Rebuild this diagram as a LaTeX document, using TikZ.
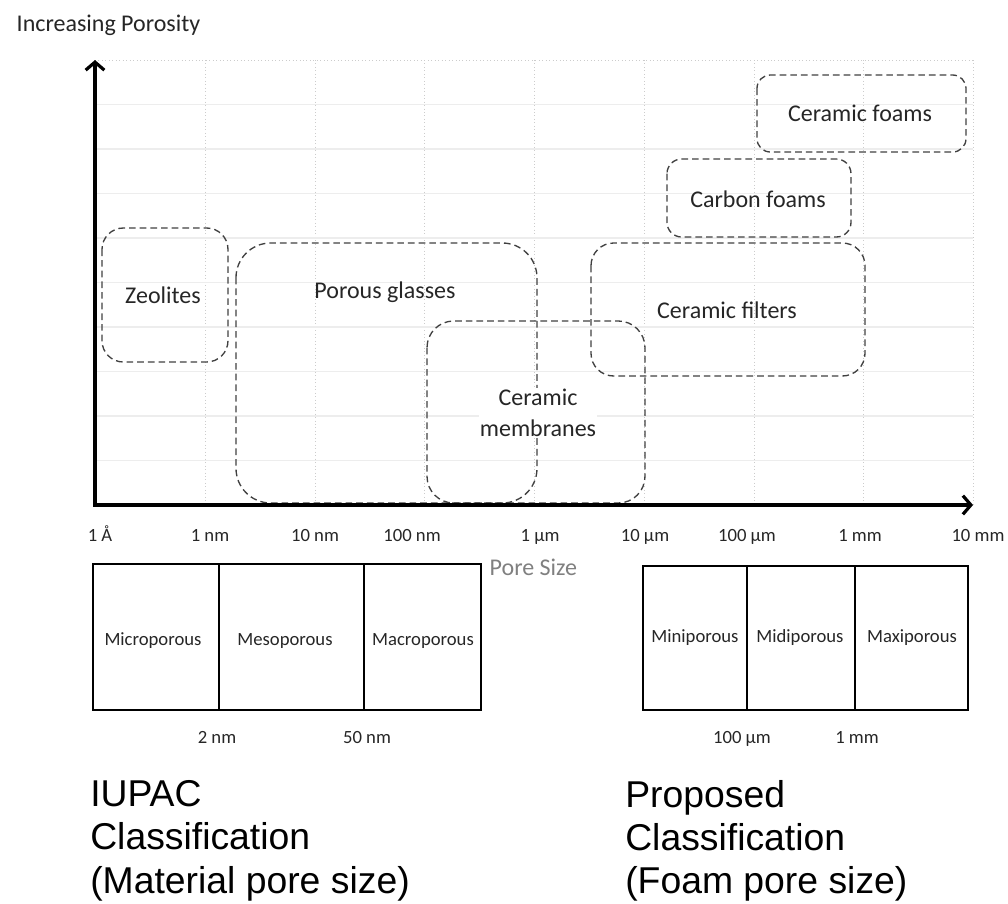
\documentclass[tikz,border=0pt]{standalone}
\usepackage{fontspec}
\setmainfont{Carlito}
\newfontfamily\arialfont{Liberation Sans}
\usetikzlibrary{arrows.meta}

\begin{document}
\begin{tikzpicture}[
  x = 0.75pt, y = -0.75pt,
  >={Straight Barb[length=6pt,width=14pt,line width=2.4pt]},
  region/.style={draw=black!75, line width=1pt, dash pattern=on 5pt off 3pt},
  axis/.style={line width=2.3pt, <->},
  vgrid/.style={black!20, line width=0.6pt, dotted},
  hgrid/.style={black!7, line width=0.8pt},
  cell/.style={draw=black, line width=2pt},
  lbl/.style={font=\fontsize{18}{23}\selectfont, text=black!85, align=center},
  small/.style={font=\fontsize{14}{16}\selectfont, text=black!85, anchor=base},
  big/.style={font=\arialfont\fontsize{28}{32.5}\selectfont, align=left, anchor=north west, inner sep=0pt}
]
\useasboundingbox (0,0) rectangle (1008,904);

%grid
\foreach \gx in {205,315,424,534,644,754,863,973}
  \draw[vgrid] (\gx,60) -- (\gx,505);
\foreach \j in {1,...,9}
  \draw[hgrid] (95,60+44.5*\j) -- (973,60+44.5*\j);
\draw[vgrid] (95,60) -- (973,60);

%regions
\draw[region, rounded corners=16pt] (102,228) rectangle (228,362);
\draw[region, rounded corners=26pt] (236,243) rectangle (537,503);
\draw[region, rounded corners=20pt] (427,321) rectangle (645,503);
\draw[region, rounded corners=17pt] (591,243) rectangle (865,376);
\draw[region, rounded corners=11pt] (667,159) rectangle (851,237);
\draw[region, rounded corners=10pt] (757,75) rectangle (966,152);

\node[lbl] (zeo) at (163,295) {Zeolites};
\node[lbl] (glass) at (385,292) {Porous glasses};
\node[lbl, fill=white, inner sep=1pt] (memb) at (538,413) {Ceramic\\membranes};
\node[lbl] (filt) at (727,310) {Ceramic filters};
\node[lbl] (carb) at (758,199) {Carbon foams};
\node[lbl] (cfoam) at (860,113) {Ceramic foams};

%axes
\coordinate (ytop) at (95,60);
\coordinate (orig) at (95,505);
\coordinate (xend) at (973,505);
\draw[axis] (ytop) -- (orig) -- (xend);
\node[lbl] (incpor) at (12,31) [anchor=base west] {Increasing Porosity};
\node[lbl, text=black!50, anchor=west] (pore) at (485,567) {Pore Size};

\foreach \tx/\tl in {100/1 Å, 210/1 nm, 315/10 nm, 412/100 nm, 540/1 µm,
    645/10 µm, 747/100 µm, 860/1 mm, 978/10 mm}
  \node[small] (tick\tx) at (\tx,541) {\tl};

%IUPAC
\draw[cell] (93,564) rectangle (481,710);
\draw[cell] (219,564) -- (219,710);
\draw[cell] (364,564) -- (364,710);
\node[small] (micro) at (153,645) {Microporous};
\node[small] (meso) at (285,645) {Mesoporous};
\node[small] (macro) at (423,645) {Macroporous};
\node[small] (lim2) at (217,743) {2 nm};
\node[small] (lim50) at (367,743) {50 nm};
\node[big] (iupac) at (90,780) {IUPAC\\Classification\\(Material pore size)};

%proposed
\draw[cell] (643,566) rectangle (968,710);
\draw[cell] (747,566) -- (747,710);
\draw[cell] (855,566) -- (855,710);
\node[small] (mini) at (695,642) {Miniporous};
\node[small] (midi) at (800,642) {Midiporous};
\node[small] (maxi) at (912,642) {Maxiporous};
\node[small] (lim100) at (742,743) {100 µm};
\node[small] (lim1) at (857,743) {1 mm};
\node[big] (prop) at (625,780) {Proposed\\Classification\\(Foam pore size)};

\end{tikzpicture}
\end{document}
